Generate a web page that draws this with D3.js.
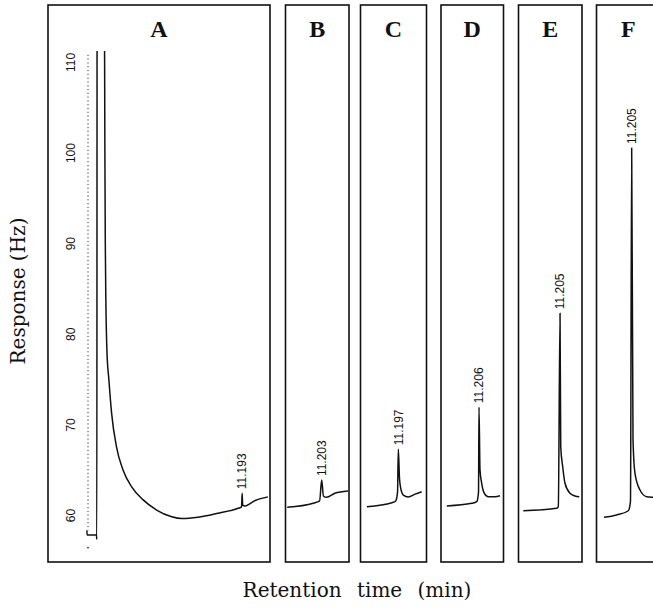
<!DOCTYPE html>
<html>
<head>
<meta charset="utf-8">
<script src="https://cdn.jsdelivr.net/npm/d3@7"></script>
<style>
  body { margin: 0; background: #fff; }
</style>
</head>
<body>
<svg id="chart" width="653" height="611"></svg>
<script>
// panel letters and labelled peaks
const panelNames = ["A", "B", "C", "D", "E", "F"];
const peakLabels = ["11.193", "11.203", "11.197", "11.206", "11.205", "11.205"];
const yTicks = [60, 70, 80, 90, 100, 110];

// start of each panel's time window (min) and its length
const windowStart = [-2.8, 10.633, 10.624, 10.598, 10.551, 10.651];
const windowLength = [16, 1, 1, 1, 1, 1];

// traces (time in min, response in Hz)
const timeA = [0, 0.02, 0.69, 0.72, 0.74, 1.26, 1.3, 1.33, 1.37, 1.45, 1.59, 1.78, 2.14, 2.6,
  3.23, 4.04, 5.03, 6.12, 6.84, 8.01, 9.46, 10.9, 11.15, 11.193, 11.23, 11.41, 12.13, 13.05];
const respA = [58.3, 57.8, 57.8, 57.3, 118, 118, 100, 90, 83.7, 78, 74.9, 71.3, 67.5, 65.0,
  63.1, 61.7, 60.55, 59.8, 59.6, 59.75, 60.2, 60.74, 60.9, 62.4, 61.1, 61.0, 61.6, 62.0];

const timeB = [10.66, 11.07, 11.17, 11.203, 11.23, 11.28, 11.41, 11.62];
const respB = [60.85, 61.3, 61.55, 63.85, 62.1, 61.95, 62.4, 62.65];

const timeC = [10.72, 11.1, 11.157, 11.185, 11.197, 11.215, 11.238, 11.272, 11.348, 11.45, 11.55];
const respC = [60.92, 61.36, 61.55, 62.5, 67.25, 64.0, 62.8, 62.2, 62.0, 62.3, 62.57];

const timeD = [10.69, 11.09, 11.17, 11.198, 11.206, 11.222, 11.249, 11.291, 11.355, 11.462, 11.542];
const respD = [61.0, 61.29, 61.47, 62.5, 71.9, 64.97, 63.5, 62.4, 62.02, 62.02, 62.13];

const timeE = [10.627, 11.153, 11.178, 11.205, 11.216, 11.247, 11.283, 11.362, 11.441, 11.508];
const respE = [60.47, 60.74, 60.92, 82.26, 67.54, 65.33, 63.5, 62.4, 62.1, 62.02];

const timeF = [10.769, 10.969, 11.152, 11.186, 11.205, 11.226, 11.257, 11.336, 11.441, 11.541, 11.59];
const respF = [59.75, 60.0, 60.47, 61.5, 100.5, 68.3, 64.6, 62.76, 62.02, 61.95, 61.93];

const traces = [[timeA, respA], [timeB, respB], [timeC, respC], [timeD, respD], [timeE, respE], [timeF, respF]];

// layout
const frames = [[48, 270], [285.5, 349], [360.5, 426.5], [441, 503.5], [518.5, 582], [596.5, 660]];
const frameTop = 5, frameBottom = 562, plotTop = 51;

const svg = d3.select("#chart");

const y = d3.scaleLinear().domain([60, 110]).range([515, 62]);

const panels = panelNames.map((name, i) => {
  const [t, r] = traces[i];
  return {
    name,
    label: peakLabels[i],
    frame: frames[i],
    points: t.map((d, j) => [d, r[j]]),
    x: d3.scaleLinear()
      .domain([windowStart[i], windowStart[i] + windowLength[i]])
      .range(frames[i])
  };
});

const defs = svg.append("defs");

const panel = svg.selectAll("g.panel")
  .data(panels)
  .join("g")
  .attr("class", "panel");

panel.each(function(p, i) {
  const g = d3.select(this);

  defs.append("clipPath")
    .attr("id", "clip" + i)
    .append("rect")
    .attr("x", p.frame[0] + 1)
    .attr("y", plotTop)
    .attr("width", p.frame[1] - p.frame[0] - 2)
    .attr("height", frameBottom - plotTop);

  g.append("rect")
    .attr("x", p.frame[0])
    .attr("y", frameTop)
    .attr("width", p.frame[1] - p.frame[0])
    .attr("height", frameBottom - frameTop)
    .attr("fill", "none")
    .attr("stroke", "#111")
    .attr("stroke-width", 1.6);

  g.append("text")
    .attr("x", (p.frame[0] + p.frame[1]) / 2)
    .attr("y", 37)
    .attr("text-anchor", "middle")
    .attr("font-family", "'Liberation Serif', 'Times New Roman', serif")
    .attr("font-weight", "bold")
    .attr("font-size", 24)
    .attr("fill", "#111")
    .text(p.name);

  const line = d3.line()
    .x(d => p.x(d[0]))
    .y(d => y(d[1]))
    .curve(d3.curveMonotoneX);

  g.append("path")
    .datum(p.points)
    .attr("clip-path", `url(#clip${i})`)
    .attr("d", line)
    .attr("fill", "none")
    .attr("stroke", "#111")
    .attr("stroke-width", 1.5)
    .attr("stroke-linejoin", "round");

  // label above the marked peak
  const peak = p.points.find(d => d[0] === +p.label);
  const px = p.x(peak[0]), py = y(peak[1]) - 4;
  g.append("text")
    .attr("transform", `translate(${px},${py}) rotate(-90)`)
    .attr("dy", "0.35em")
    .attr("font-family", "'Liberation Sans', Arial, sans-serif")
    .attr("font-size", 12)
    .attr("fill", "#111")
    .text(p.label);
});

// y axis of panel A: dotted baseline rule with rotated labels
const axisX = 88;
const yAxis = svg.append("g")
  .attr("transform", `translate(${axisX},0)`)
  .call(d3.axisLeft(y).tickValues(yTicks).tickSize(0).tickPadding(0));

yAxis.select(".domain").remove();
yAxis.selectAll("text")
  .attr("x", null)
  .attr("text-anchor", "middle")
  .attr("dy", "0.35em")
  .attr("transform", "translate(-17,0) rotate(-90)")
  .attr("font-family", "'Liberation Sans', Arial, sans-serif")
  .attr("font-size", 12)
  .attr("fill", "#111");

svg.append("line")
  .attr("x1", axisX).attr("x2", axisX)
  .attr("y1", y(110.8)).attr("y2", y(58.3))
  .attr("stroke", "#333")
  .attr("stroke-width", 1)
  .attr("stroke-dasharray", "1.2,2.6");

svg.append("circle")
  .attr("cx", axisX)
  .attr("cy", y(56.4))
  .attr("r", 0.9)
  .attr("fill", "#333");

// axis titles
svg.append("text")
  .attr("transform", `translate(25,291) rotate(-90)`)
  .attr("text-anchor", "middle")
  .attr("font-family", "'DejaVu Serif', serif")
  .attr("font-size", 20)
  .attr("fill", "#111")
  .text("Response (Hz)");

svg.append("text")
  .attr("x", 357)
  .attr("y", 597)
  .attr("text-anchor", "middle")
  .attr("font-family", "'DejaVu Serif', serif")
  .attr("font-size", 20)
  .attr("word-spacing", 9)
  .attr("fill", "#111")
  .text("Retention time (min)");
</script>
</body>
</html>
